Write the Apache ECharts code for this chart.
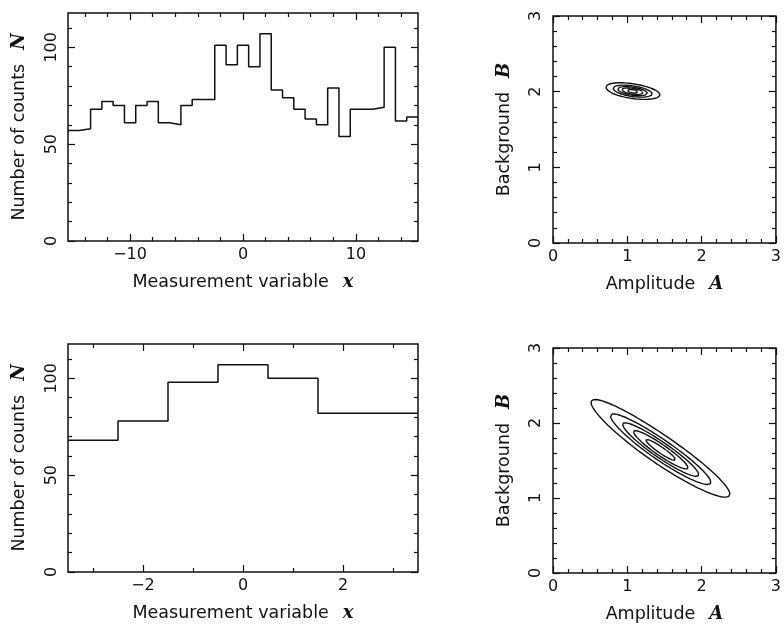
<!DOCTYPE html>
<html>
<head>
<meta charset="utf-8">
<script src="https://cdn.jsdelivr.net/npm/echarts@6/dist/echarts.min.js"></script>
<style>
  html, body { margin: 0; padding: 0; background: #ffffff; }
  #chart { width: 784px; height: 624px; }
</style>
</head>
<body>
<div id="chart"></div>
<script>
// ---- Spectra (counts per unit-width bin) ----
// Wide scan: bins centred on x = -15 ... 15
const wideCentres = [-15,-14,-13,-12,-11,-10,-9,-8,-7,-6,-5,-4,-3,-2,-1,0,1,2,3,4,5,6,7,8,9,10,11,12,13,14,15];
const wideCounts  = [57,58,68,72,70,61,70,72,61,60,70,73,73,101,91,101,90,107,78,74,68,63,60,79,54,68,68,69,100,62,64];
// Narrow scan: bins centred on x = -3 ... 3
const narrowCentres = [-3,-2,-1,0,1,2,3];
const narrowCounts  = [68,78,98,107,100,82,82];
const binWidth = 1;

// ---- Signal model: expected counts = n0 * (A * exp(-(x - x0)^2 / 2w^2) + B) ----
const n0 = 100 / 3;
const peakWidth = 2.12;
const peakCentre = 0;
// posterior contours, as fractions of the maximum
const contourLevels = [0.1, 0.3, 0.5, 0.7, 0.9];

// ---- Axis ranges and tick values ----
const countsMax = 117.7;
const countsLabels = [0, 50, 100];
const countsMinor  = [10, 20, 30, 40, 60, 70, 80, 90, 110];
const wideRange = [-15.5, 15.5];
const wideLabels = [-10, 0, 10];
const wideMinor  = [-14, -12, -8, -6, -4, -2, 2, 4, 6, 8, 12, 14];
const narrowRange = [-3.5, 3.5];
const narrowLabels = [-2, 0, 2];
const narrowMinor  = [-3, -1, 1, 3];
const paramRange = [0, 3];
const paramLabels = [0, 1, 2, 3];
const paramMinor  = [0.2,0.4,0.6,0.8,1.2,1.4,1.6,1.8,2.2,2.4,2.6,2.8];

const INK = '#111111';
const SANS = 'DejaVu Sans';

// step outline: one point per bin's left edge, plus the final right edge
function stepOutline(centres, counts) {
  const pts = centres.map((c, i) => [c - binWidth / 2, counts[i]]);
  pts.push([centres[centres.length - 1] + binWidth / 2, counts[counts.length - 1]]);
  return pts;
}

// log posterior for amplitude A and background B (Poisson likelihood, flat positive prior)
function makeLogPost(centres, counts) {
  const g = centres.map(x => Math.exp(-((x - peakCentre) ** 2) / (2 * peakWidth * peakWidth)));
  return function (A, B) {
    if (A < 0 || B < 0) return -Infinity;
    let s = 0;
    for (let k = 0; k < g.length; k++) {
      const D = n0 * (A * g[k] + B);
      if (D <= 0) return -Infinity;
      s += counts[k] * Math.log(D) - D;
    }
    return s;
  };
}

function posteriorContours(centres, counts) {
  const L = makeLogPost(centres, counts);
  // coarse grid search for the mode, then local refinement
  let best = [1, 1], bestL = -Infinity;
  for (let a = 0.005; a < 3; a += 0.01) {
    for (let b = 0.005; b < 3; b += 0.01) {
      const v = L(a, b);
      if (v > bestL) { bestL = v; best = [a, b]; }
    }
  }
  const [a0, b0] = best;
  for (let a = a0 - 0.01; a <= a0 + 0.01; a += 0.0005) {
    for (let b = b0 - 0.01; b <= b0 + 0.01; b += 0.0005) {
      const v = L(a, b);
      if (v > bestL) { bestL = v; best = [a, b]; }
    }
  }
  const [cA, cB] = best;
  const nRays = 1440;
  return contourLevels.map(level => {
    const target = bestL + Math.log(level);
    const pts = [];
    for (let i = 0; i <= nRays; i++) {
      const t = (2 * Math.PI * i) / nRays;
      const dx = Math.cos(t), dy = Math.sin(t);
      let lo = 0, hi = 0.01;
      while (L(cA + hi * dx, cB + hi * dy) > target && hi < 8) hi *= 2;
      for (let it = 0; it < 40; it++) {
        const mid = (lo + hi) / 2;
        if (L(cA + mid * dx, cB + mid * dy) > target) lo = mid; else hi = mid;
      }
      const r = (lo + hi) / 2;
      pts.push([cA + r * dx, cB + r * dy]);
    }
    return pts;
  });
}

function tickText(v) {
  return v < 0 ? '\u2212' + Math.abs(v) : String(v);
}

// four axes per side-pair: labelled major, minor, and mirrored major/minor ticks
function axisSet(gridIndex, range, major, minor, isX, name, nameGap, labelMargin, rotateLabels) {
  const near = isX ? 'bottom' : 'left';
  const far = isX ? 'top' : 'right';
  const base = (position, values, length) => ({
    type: 'value', gridIndex, min: range[0], max: range[1], position,
    axisLine: { show: false, onZero: false },
    splitLine: { show: false },
    axisLabel: { show: false },
    axisTick: { show: true, inside: true, length, customValues: values,
                lineStyle: { color: INK, width: 1.2 } },
    axisPointer: { show: false }
  });
  const main = base(near, major, 7);
  main.axisLabel = {
    show: true, customValues: major, formatter: tickText,
    color: INK, fontFamily: SANS, fontSize: 16, margin: labelMargin,
    rotate: rotateLabels ? 90 : 0
  };
  main.name = name;
  main.nameLocation = 'middle';
  main.nameGap = nameGap;
  main.nameTextStyle = {
    rich: {
      t: { fontFamily: SANS, fontSize: 17.5, color: INK },
      m: { fontFamily: 'DejaVu Serif', fontSize: 18, fontStyle: 'italic', fontWeight: 'bold',
           color: INK, padding: [0, 0, 0, 14] }
    }
  };
  return [main, base(near, minor, 4), base(far, major, 7), base(far, minor, 4)];
}

const grids = [
  { left: 68,  top: 13,  width: 350, height: 228 },
  { left: 553, top: 16,  width: 226, height: 227 },
  { left: 68,  top: 344, width: 350, height: 228 },
  { left: 553, top: 348, width: 226, height: 226 }
].map(g => Object.assign({ show: true, borderColor: INK, borderWidth: 1.5, backgroundColor: 'transparent' }, g));

const xName = '{t|Measurement variable}{m|x}';
const aName = '{t|Amplitude}{m|A}';
const nName = '{t|Number of counts}{m|N}';
const bName = '{t|Background}{m|B}';

const xAxes = [].concat(
  axisSet(0, wideRange, wideLabels, wideMinor, true, xName, 32, 6, false),
  axisSet(1, paramRange, paramLabels, paramMinor, true, aName, 32, 6, false),
  axisSet(2, narrowRange, narrowLabels, narrowMinor, true, xName, 32, 6, false),
  axisSet(3, paramRange, paramLabels, paramMinor, true, aName, 32, 6, false)
);
const yAxes = [].concat(
  axisSet(0, [0, countsMax], countsLabels, countsMinor, false, nName, 40, 8, true),
  axisSet(1, paramRange, paramLabels, paramMinor, false, bName, 40, 9, true),
  axisSet(2, [0, countsMax], countsLabels, countsMinor, false, nName, 40, 8, true),
  axisSet(3, paramRange, paramLabels, paramMinor, false, bName, 40, 9, true)
);

const lineStyle = { color: INK, width: 1.5 };
const series = [
  { type: 'line', xAxisIndex: 0, yAxisIndex: 0, step: 'end', data: stepOutline(wideCentres, wideCounts),
    showSymbol: false, lineStyle, silent: true },
  { type: 'line', xAxisIndex: 8, yAxisIndex: 8, step: 'end', data: stepOutline(narrowCentres, narrowCounts),
    showSymbol: false, lineStyle, silent: true }
];
posteriorContours(wideCentres, wideCounts).forEach(pts => series.push(
  { type: 'line', xAxisIndex: 4, yAxisIndex: 4, data: pts, showSymbol: false,
    lineStyle: { color: INK, width: 1.4 }, silent: true }));
posteriorContours(narrowCentres, narrowCounts).forEach(pts => series.push(
  { type: 'line', xAxisIndex: 12, yAxisIndex: 12, data: pts, showSymbol: false,
    lineStyle: { color: INK, width: 1.4 }, silent: true }));

const chart = echarts.init(document.getElementById('chart'), null, { renderer: 'canvas' });
chart.setOption({
  animation: false,
  backgroundColor: '#ffffff',
  grid: grids,
  xAxis: xAxes,
  yAxis: yAxes,
  series
});
</script>
</body>
</html>
